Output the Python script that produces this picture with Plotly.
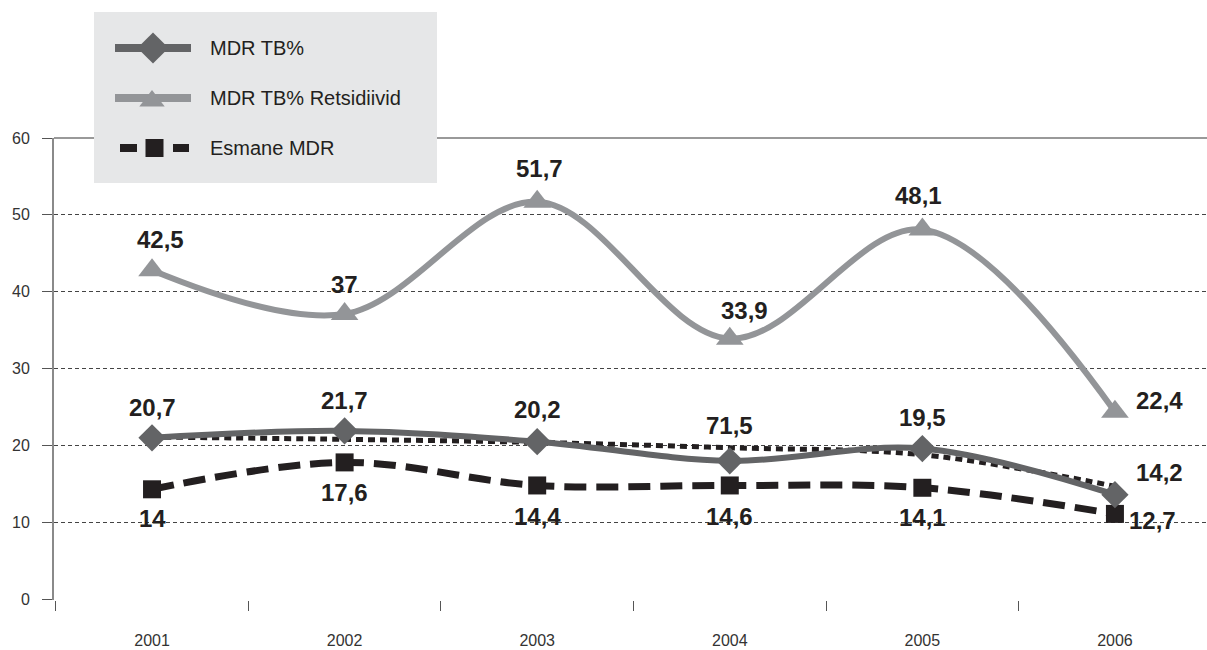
import plotly.graph_objects as go

# ---- data ----
years = ["2001", "2002", "2003", "2004", "2005", "2006"]
mdr_tb = [21.0, 21.9, 20.5, 18.0, 19.6, 13.6]
mdr_tb_labels = ["20,7", "21,7", "20,2", "71,5", "19,5", "14,2"]
retsidiivid = [42.8, 37.1, 51.7, 33.9, 48.1, 24.4]
retsidiivid_labels = ["42,5", "37", "51,7", "33,9", "48,1", "22,4"]
esmane = [14.3, 17.8, 14.8, 14.8, 14.5, 11.1]
esmane_labels = ["14", "17,6", "14,4", "14,6", "14,1", "12,7"]
trend = [21.1, 20.8, 20.4, 19.7, 18.8, 14.7]
y_ticks = [0, 10, 20, 30, 40, 50, 60]

series_names = ["MDR TB%", "MDR TB% Retsidiivid", "Esmane MDR"]

# ---- styles ----
C_DARK = "#636466"
C_LIGHT = "#939598"
C_BLACK = "#231f20"
FONT = "Liberation Sans, Arial, sans-serif"

fig = go.Figure()

# trend (dotted)
fig.add_trace(go.Scatter(
    x=years, y=trend, mode="lines", showlegend=False, hoverinfo="skip",
    line=dict(color=C_BLACK, width=5, dash="7px,5px", shape="spline", smoothing=1.0),
))
# Esmane MDR
fig.add_trace(go.Scatter(
    x=years, y=esmane, mode="lines+markers", name=series_names[2], showlegend=False,
    line=dict(color=C_BLACK, width=7, dash="22px,10px", shape="spline", smoothing=1.0),
    marker=dict(symbol="square", size=18, color=C_BLACK),
))
# MDR TB% Retsidiivid
fig.add_trace(go.Scatter(
    x=years, y=retsidiivid, mode="lines+markers", name=series_names[1], showlegend=False,
    line=dict(color=C_LIGHT, width=6, shape="spline", smoothing=1.0),
    marker=dict(symbol="triangle-up", size=24, color=C_LIGHT),
))
# MDR TB%
fig.add_trace(go.Scatter(
    x=years, y=mdr_tb, mode="lines+markers", name=series_names[0], showlegend=False,
    line=dict(color=C_DARK, width=6, shape="spline", smoothing=1.0),
    marker=dict(symbol="diamond", size=21, color=C_DARK),
))

# ---- data labels (x given as category index) ----
annotations = []
lab_font = dict(family=FONT, size=24, color=C_BLACK)

def add_labels(values, labels, xshifts, yshifts):
    for i, (v, t) in enumerate(zip(values, labels)):
        annotations.append(dict(
            x=i, y=v, xref="x", yref="y", text="<b>%s</b>" % t,
            showarrow=False, font=lab_font, xshift=xshifts[i], yshift=yshifts[i],
        ))

add_labels(mdr_tb, mdr_tb_labels, [0, 0, 0, 0, 0, 45], [30, 30, 32, 35, 31, 22])
add_labels(retsidiivid, retsidiivid_labels, [8, 0, 2, 15, -4, 45], [31, 30, 33, 28, 34, 11])
add_labels(esmane, esmane_labels, [0, 0, 0, 0, 0, 38], [-29, -30, -31, -31, -30, -7])

# ---- custom legend (drawn on helper axes x2/y2, pixel-like units) ----
legend_rows = [48, 98, 148]
# MDR TB%
fig.add_trace(go.Scatter(x=[115, 191], y=[legend_rows[0]] * 2, xaxis="x2", yaxis="y2",
                         mode="lines", line=dict(color=C_DARK, width=8),
                         showlegend=False, hoverinfo="skip"))
fig.add_trace(go.Scatter(x=[153], y=[legend_rows[0]], xaxis="x2", yaxis="y2",
                         mode="markers", marker=dict(symbol="diamond", size=24, color=C_DARK),
                         showlegend=False, hoverinfo="skip"))
# Retsidiivid
fig.add_trace(go.Scatter(x=[115, 191], y=[legend_rows[1]] * 2, xaxis="x2", yaxis="y2",
                         mode="lines", line=dict(color=C_LIGHT, width=8),
                         showlegend=False, hoverinfo="skip"))
fig.add_trace(go.Scatter(x=[152], y=[legend_rows[1] + 3], xaxis="x2", yaxis="y2",
                         mode="markers", marker=dict(symbol="triangle-up", size=22, color=C_LIGHT),
                         showlegend=False, hoverinfo="skip"))
# Esmane
fig.add_trace(go.Scatter(x=[120, 137, None, 173, 189], y=[legend_rows[2]] * 2 + [None] + [legend_rows[2]] * 2,
                         xaxis="x2", yaxis="y2", mode="lines", line=dict(color=C_BLACK, width=8),
                         showlegend=False, hoverinfo="skip"))
fig.add_trace(go.Scatter(x=[154.5], y=[legend_rows[2]], xaxis="x2", yaxis="y2",
                         mode="markers", marker=dict(symbol="square", size=18, color=C_BLACK),
                         showlegend=False, hoverinfo="skip"))

for name, ry in zip(series_names, legend_rows):
    annotations.append(dict(x=208, y=ry, xref="x2", yref="y2", text=name, showarrow=False,
                            xanchor="left", yanchor="middle",
                            font=dict(family=FONT, size=20, color=C_BLACK)))

shapes = [
    # top border of plot area
    dict(type="line", xref="paper", x0=0, x1=1, yref="y domain", y0=1, y1=1,
         line=dict(color="#777777", width=1.5), layer="between"),
    # legend background
    dict(type="rect", xref="x2", yref="y2", x0=94, x1=437, y0=12, y1=183,
         fillcolor="#e6e7e8", line=dict(width=0), layer="below"),
]

W, H = 1207, 650
ML, MR, MT, MB = 54, 0, 10, 50
plot_h = H - MT - MB
plot_w = W - ML - MR
top_px = 138
y_dom_top = (H - MB - top_px) / plot_h
leg_x0, leg_x1, leg_y0, leg_y1 = 94, 437, 12, 183

fig.update_layout(
    width=W, height=H,
    margin=dict(l=ML, r=MR, t=MT, b=MB),
    paper_bgcolor="white", plot_bgcolor="rgba(0,0,0,0)",
    showlegend=False,
    font=dict(family=FONT, color="#333333"),
    annotations=annotations,
    shapes=shapes,
    xaxis=dict(
        type="category", range=[-0.509, 5.478], showgrid=False, zeroline=False,
        showline=False, ticks="outside", tickson="boundaries", ticklen=10,
        tickcolor="#555555", tickwidth=1,
        tickfont=dict(family=FONT, size=16, color="#333333"),
        ticklabelstandoff=29, domain=[0, 1], anchor="y",
    ),
    yaxis=dict(
        range=[-0.1, 60], tickvals=y_ticks, showgrid=True, gridcolor="#444444",
        griddash="4px,3px", gridwidth=1, zeroline=False,
        showline=True, linecolor="#8a8a8a", linewidth=2,
        ticks="outside", ticklen=10, tickcolor="#555555", tickwidth=1,
        tickfont=dict(family=FONT, size=16, color="#333333"),
        ticklabelstandoff=9, domain=[0, y_dom_top], anchor="x",
    ),
    xaxis2=dict(
        range=[leg_x0, leg_x1], visible=False, anchor="y2",
        domain=[(leg_x0 - ML) / plot_w, (leg_x1 - ML) / plot_w],
    ),
    yaxis2=dict(
        range=[leg_y1, leg_y0], visible=False, anchor="x2",
        domain=[(H - MB - leg_y1) / plot_h, (H - MB - leg_y0) / plot_h],
    ),
)

fig.write_html(
    "out.html",
    config={"displayModeBar": False},
    post_script="document.body.style.margin='0';document.body.style.overflow='hidden';",
)
